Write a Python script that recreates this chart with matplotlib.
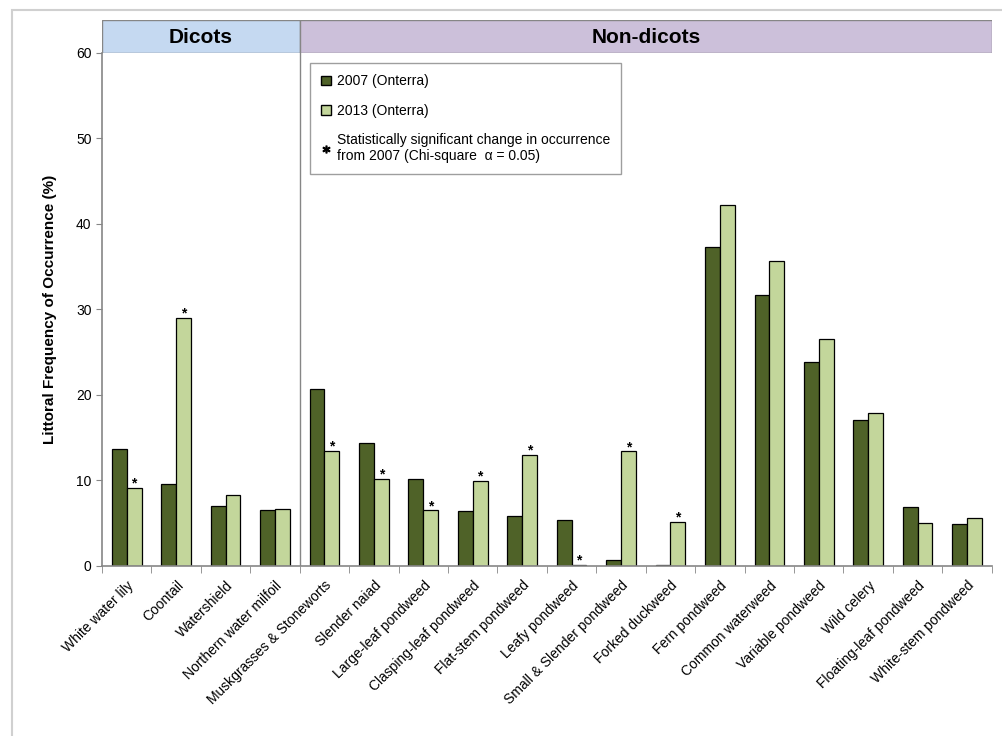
import numpy as np
import matplotlib.pyplot as plt
from matplotlib.patches import Rectangle, Patch
from matplotlib.lines import Line2D

plt.rcParams['font.family'] = ['Liberation Sans', 'DejaVu Sans']

# data
species = ['White water lily', 'Coontail', 'Watershield', 'Northern water milfoil',
           'Muskgrasses & Stoneworts', 'Slender naiad', 'Large-leaf pondweed',
           'Clasping-leaf pondweed', 'Flat-stem pondweed', 'Leafy pondweed',
           'Small & Slender pondweed', 'Forked duckweed', 'Fern pondweed',
           'Common waterweed', 'Variable pondweed', 'Wild celery',
           'Floating-leaf pondweed', 'White-stem pondweed']
freq_2007 = [13.7, 9.6, 7.0, 6.6, 20.7, 14.4, 10.2, 6.4, 5.8, 5.4, 0.7, 0.1,
             37.3, 31.7, 23.9, 17.1, 6.9, 4.9]
freq_2013 = [9.1, 29.0, 8.3, 6.7, 13.5, 10.2, 6.5, 9.9, 13.0, 0.1, 13.4, 5.1,
             42.2, 35.7, 26.5, 17.9, 5.0, 5.6]
significant = [True, True, False, False, True, True, True, True, True, True,
               True, True, False, False, False, False, False, False]
n_dicots = 4

dark = '#4F6228'
light = '#C3D69B'
grey = '#868686'

fig = plt.figure(figsize=(10.02, 7.36), dpi=100)
fig.patches.append(Rectangle((12 / 1002, -0.01), 1.0, 1 - 10 / 736 + 0.01,
                             transform=fig.transFigure, fill=False,
                             edgecolor='#D0D0D0', lw=1.5))
ax = fig.add_axes([0.1018, 0.231, 0.888, 0.697])

x = np.arange(len(species))
w = 0.3
ax.bar(x - w / 2, freq_2007, w, color=dark, edgecolor='black', lw=0.9, label='2007 (Onterra)')
ax.bar(x + w / 2, freq_2013, w, color=light, edgecolor='black', lw=0.9, label='2013 (Onterra)')
for xi, v, s in zip(x, freq_2013, significant):
    if s:
        ax.text(xi + w / 2, v - 0.3, '*', ha='center', va='bottom', fontsize=10, fontweight='bold')

ax.set_xlim(-0.5, len(species) - 0.5)
ax.set_ylim(0, 60)
ax.set_yticks(range(0, 61, 10))
ax.tick_params(axis='y', labelsize=10, length=4, color=grey)
ax.set_xticks(x)
ax.set_xticklabels(species, rotation=45, ha='right', rotation_mode='anchor', fontsize=10)
ax.tick_params(axis='x', length=0, pad=9)
ax.set_xticks(np.arange(-0.5, len(species), 1), minor=True)
ax.tick_params(axis='x', which='minor', length=5, color=grey)
for side in ['top', 'right']:
    ax.spines[side].set_visible(False)
for side in ['left', 'bottom']:
    ax.spines[side].set_color(grey)
    ax.spines[side].set_linewidth(1.2)
ax.set_ylabel('Littoral Frequency of Occurrence (%)', fontsize=11, fontweight='bold', labelpad=14)

# separator between dicots and non-dicots
ax.axvline(n_dicots - 0.5, color=grey, lw=1)

# header bands
hdr = fig.add_axes([0.1018, 0.928, 0.888, 0.045])
hdr.set_xlim(-0.5, len(species) - 0.5)
hdr.set_ylim(0, 1)
hdr.axis('off')
hdr.add_patch(Rectangle((-0.5, 0), n_dicots, 1, facecolor='#C5D9F1', edgecolor=grey, lw=1))
hdr.add_patch(Rectangle((n_dicots - 0.5, 0), len(species) - n_dicots, 1,
                        facecolor='#CCC0DA', edgecolor=grey, lw=1))
hdr.text(-0.5 + n_dicots / 2, 0.48, 'Dicots', ha='center', va='center', fontsize=15, fontweight='bold')
hdr.text(n_dicots - 0.5 + (len(species) - n_dicots) / 2, 0.48, 'Non-dicots',
         ha='center', va='center', fontsize=15, fontweight='bold')

handles = [Patch(facecolor=dark, edgecolor='black'),
           Patch(facecolor=light, edgecolor='black'),
           Line2D([], [], marker='$*$', color='black', ls='none', markersize=5)]
labels = ['2007 (Onterra)', '2013 (Onterra)',
          'Statistically significant change in occurrence\nfrom 2007 (Chi-square  \u03b1 = 0.05)']
leg = ax.legend(handles, labels, loc='upper left', bbox_to_anchor=(0.234, 0.98),
                borderaxespad=0, fontsize=10, frameon=True, fancybox=False,
                edgecolor=grey, handlelength=0.7, handletextpad=0.4,
                labelspacing=1.1, borderpad=0.8)
leg.get_frame().set_linewidth(1)

fig.savefig('out.png', dpi=100)
